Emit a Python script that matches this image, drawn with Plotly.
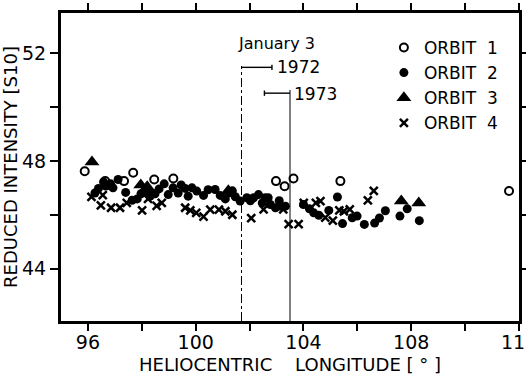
import plotly.graph_objects as go

# ---- data ----
orbit1_lon = [95.88, 96.64, 97.34, 97.68, 98.46, 99.17, 102.98, 103.30, 103.63, 105.37, 111.63]
orbit1_int = [47.62, 47.25, 47.25, 47.56, 47.31, 47.35, 47.25, 47.06, 47.35, 47.25, 46.88]

orbit2_lon = [96.26, 96.39, 96.58, 96.67, 96.84, 96.93, 97.12, 97.40, 97.64, 97.83, 97.97, 98.23,
              98.31, 98.49, 98.64, 98.83, 98.98, 99.16, 99.35, 99.46, 99.61, 99.72, 99.86, 100.04,
              100.29, 100.46, 100.72, 100.91, 101.10, 101.22, 101.36, 101.47, 101.65, 101.90,
              102.03, 102.15, 102.33, 102.47, 102.58, 102.69, 102.77, 102.96, 103.10, 103.14,
              103.33, 104.00, 104.22, 104.38, 104.57, 104.94, 105.26, 105.45, 105.81, 105.99,
              106.26, 106.64, 106.82, 107.04, 107.58, 107.85, 108.30]
orbit2_int = [46.81, 46.98, 47.22, 47.07, 47.15, 47.00, 47.31, 46.83, 46.54, 46.59, 46.78, 46.88,
              46.69, 46.78, 46.96, 47.15, 46.75, 47.00, 46.81, 47.11, 46.98, 46.69, 47.00, 46.88,
              46.72, 46.93, 46.94, 46.72, 46.59, 46.81, 46.89, 46.67, 46.51, 46.63,
              46.52, 46.63, 46.75, 46.44, 46.63, 46.63, 46.38, 46.26, 46.52, 46.32,
              46.32, 46.38, 46.22, 46.07, 45.98, 46.16, 46.66, 45.67, 45.89, 45.95,
              45.64, 45.69, 45.88, 46.15, 45.95, 46.22, 45.78]

orbit3_lon = [96.15, 97.96, 98.20, 101.21, 107.63, 108.28]
orbit3_int = [47.96, 47.11, 47.04, 46.89, 46.51, 46.44]

orbit4_lon = [96.13, 96.55, 96.48, 96.86, 97.19, 97.44, 98.01, 98.23, 98.55, 98.74, 99.61, 99.80,
              100.02, 100.29, 100.54, 100.86, 101.10, 101.36, 102.06, 102.52, 103.25, 103.45,
              103.82, 104.01, 104.46, 104.63, 104.81, 105.09, 105.33, 105.50, 105.72, 106.39, 106.61]
orbit4_int = [46.66, 46.73, 46.35, 46.26, 46.26, 46.44, 46.16, 46.59, 46.33, 46.44, 46.26, 46.16,
              46.07, 45.93, 46.19, 46.19, 46.13, 46.00, 45.87, 46.20, 46.20, 45.65,
              45.65, 46.44, 46.44, 46.51, 45.89, 45.78, 46.16, 46.13, 46.20, 46.53, 46.89]

# January 3 positions and ranges
jan3_1972 = 101.7
jan3_1972_end = 102.83
jan3_1972_level = 51.48
jan3_1973 = 103.5
jan3_1973_start = 102.55
jan3_1973_level = 50.52

x_ticks = [96, 98, 100, 102, 104, 106, 108, 110, 112]
x_ticktext = ["96", "", "100", "", "104", "", "108", "", "112"]
y_ticks = [44, 46, 48, 50, 52]
y_ticktext = ["44", "", "48", "", "52"]

FONT = "DejaVu Sans"

fig = go.Figure()
fig.add_trace(go.Scatter(x=orbit1_lon, y=orbit1_int, mode="markers", name="ORBIT  1",
                         marker=dict(symbol="circle-open", size=8, color="black", line=dict(width=2))))
fig.add_trace(go.Scatter(x=orbit2_lon, y=orbit2_int, mode="markers", name="ORBIT  2",
                         marker=dict(symbol="circle", size=9, color="black")))
fig.add_trace(go.Scatter(x=orbit3_lon, y=orbit3_int, mode="markers", name="ORBIT  3",
                         marker=dict(symbol="triangle-up", size=13, color="black")))
fig.add_trace(go.Scatter(x=orbit4_lon, y=orbit4_int, mode="markers", name="ORBIT  4",
                         marker=dict(symbol="x-thin-open", size=8, color="black", line=dict(width=2.5, color="black"))))

# January 3 markers
y_bottom = 42.05
fig.add_shape(type="line", x0=jan3_1972, x1=jan3_1972, y0=y_bottom, y1=jan3_1972_level + 0.05,
              line=dict(color="black", width=1, dash="dashdot"))
fig.add_shape(type="line", x0=jan3_1972, x1=jan3_1972_end, y0=jan3_1972_level, y1=jan3_1972_level,
              line=dict(color="black", width=1.4))
fig.add_shape(type="line", x0=jan3_1972_end, x1=jan3_1972_end, y0=jan3_1972_level - 0.1, y1=jan3_1972_level + 0.1,
              line=dict(color="black", width=1.4))
fig.add_shape(type="line", x0=jan3_1973, x1=jan3_1973, y0=y_bottom, y1=jan3_1973_level + 0.12,
              line=dict(color="black", width=1))
fig.add_shape(type="line", x0=jan3_1973_start, x1=jan3_1973, y0=jan3_1973_level, y1=jan3_1973_level,
              line=dict(color="black", width=1.4))
fig.add_shape(type="line", x0=jan3_1973_start, x1=jan3_1973_start, y0=jan3_1973_level - 0.1, y1=jan3_1973_level + 0.1,
              line=dict(color="black", width=1.4))

fig.add_annotation(x=103.0, y=52.37, text="January 3", showarrow=False,
                   font=dict(family=FONT, size=16, color="black"), xanchor="center", yanchor="middle")
fig.add_annotation(x=102.93, y=51.5, text="1972", showarrow=False,
                   font=dict(family=FONT, size=17, color="black"), xanchor="left", yanchor="middle")
fig.add_annotation(x=103.56, y=50.5, text="1973", showarrow=False,
                   font=dict(family=FONT, size=17, color="black"), xanchor="left", yanchor="middle")

fig.update_layout(
    width=526, height=375,
    margin=dict(l=61, r=7, t=13, b=54, autoexpand=False),
    paper_bgcolor="white", plot_bgcolor="white",
    font=dict(family=FONT, size=18, color="black"),
    showlegend=True,
    legend=dict(x=0.705, y=0.945, xanchor="left", yanchor="top", bgcolor="rgba(0,0,0,0)",
                font=dict(family=FONT, size=17, color="black"), tracegroupgap=0),
    xaxis=dict(range=[95, 112], tickvals=x_ticks, ticktext=x_ticktext, automargin=False,
               ticklabeloverflow="allow", ticklabelstandoff=-5,
               showgrid=False, zeroline=False, showline=True, linewidth=3, linecolor="black",
               mirror="allticks", ticks="outside", ticklen=7, tickwidth=1.5, tickcolor="black",
               tickfont=dict(family=FONT, size=19, color="black"),
               title=dict(text="HELIOCENTRIC    LONGITUDE [ ° ]", standoff=10,
                          font=dict(family=FONT, size=18, color="black"))),
    yaxis=dict(range=[42.05, 53.5], tickvals=y_ticks, ticktext=y_ticktext, automargin=False,
               showgrid=False, zeroline=False, showline=True, linewidth=3, linecolor="black",
               mirror="allticks", ticks="outside", ticklen=8, tickwidth=1.5, tickcolor="black",
               tickfont=dict(family=FONT, size=19, color="black"),
               title=dict(text="REDUCED INTENSITY [S10]", standoff=6,
                          font=dict(family=FONT, size=18, color="black"))),
)

fig.write_html("out.html")
